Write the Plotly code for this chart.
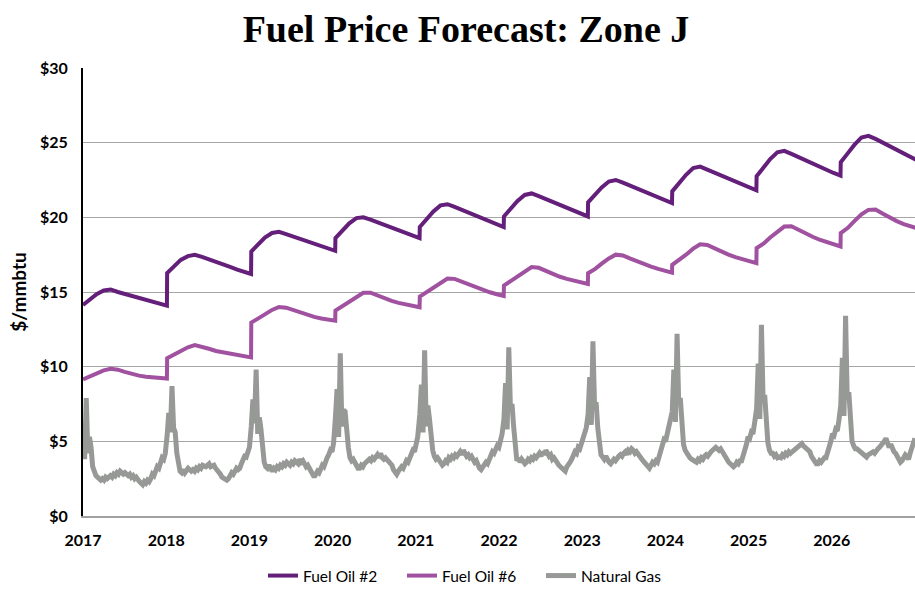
import pandas as pd
import plotly.graph_objects as go

years = list(range(2017, 2027))
year_labels = [str(y) for y in years]
y_ticks = [0, 5, 10, 15, 20, 25, 30]
y_tick_labels = ["$0", "$5", "$10", "$15", "$20", "$25", "$30"]

# Fuel oil: values on the 1st of each month Jan..Dec, then Dec 31 (before the yearly step)
fuel_oil_2 = [
    14.13, 14.50, 14.85, 15.10, 15.17, 15.00, 14.88, 14.75, 14.62, 14.48, 14.35, 14.22, 14.09,  # 2017
    16.26, 16.75, 17.15, 17.40, 17.49, 17.35, 17.20, 17.02, 16.85, 16.68, 16.50, 16.36, 16.21,  # 2018
    17.71, 18.20, 18.65, 18.95, 19.03, 18.88, 18.72, 18.55, 18.38, 18.22, 18.05, 17.90, 17.76,  # 2019
    18.61, 19.10, 19.60, 19.95, 20.00, 19.85, 19.67, 19.48, 19.30, 19.12, 18.95, 18.78, 18.61,  # 2020
    19.35, 19.90, 20.40, 20.80, 20.88, 20.70, 20.50, 20.30, 20.10, 19.90, 19.70, 19.52, 19.35,  # 2021
    20.06, 20.60, 21.10, 21.50, 21.60, 21.42, 21.22, 21.02, 20.82, 20.62, 20.43, 20.25, 20.06,  # 2022
    21.00, 21.55, 22.00, 22.40, 22.50, 22.32, 22.12, 21.92, 21.72, 21.52, 21.32, 21.14, 20.96,  # 2023
    21.74, 22.35, 22.85, 23.30, 23.40, 23.20, 23.00, 22.80, 22.58, 22.38, 22.18, 22.00, 21.81,  # 2024
    22.75, 23.35, 23.90, 24.35, 24.45, 24.25, 24.03, 23.80, 23.58, 23.37, 23.17, 22.97, 22.79,  # 2025
    23.69, 24.30, 24.85, 25.35, 25.46, 25.25, 25.00, 24.75, 24.50, 24.25, 24.00, 23.80, 23.60,  # 2026
]
fuel_oil_6 = [
    9.15, 9.35, 9.55, 9.75, 9.86, 9.80, 9.65, 9.50, 9.40, 9.33, 9.28, 9.24, 9.21,  # 2017
    10.56, 10.80, 11.05, 11.30, 11.44, 11.35, 11.20, 11.05, 10.95, 10.85, 10.78, 10.70, 10.62,  # 2018
    12.95, 13.20, 13.50, 13.80, 14.00, 13.95, 13.80, 13.60, 13.45, 13.33, 13.23, 13.15, 13.08,  # 2019
    13.75, 14.05, 14.35, 14.70, 14.95, 14.95, 14.75, 14.55, 14.40, 14.27, 14.15, 14.06, 13.98,  # 2020
    14.69, 15.00, 15.30, 15.65, 15.90, 15.88, 15.70, 15.50, 15.30, 15.12, 14.98, 14.85, 14.74,  # 2021
    15.43, 15.75, 16.05, 16.40, 16.67, 16.62, 16.42, 16.20, 16.02, 15.88, 15.75, 15.64, 15.54,  # 2022
    16.26, 16.55, 16.90, 17.25, 17.50, 17.45, 17.25, 17.05, 16.85, 16.70, 16.55, 16.42, 16.30,  # 2023
    16.82, 17.15, 17.50, 17.90, 18.20, 18.15, 17.92, 17.70, 17.50, 17.33, 17.18, 17.05, 16.93,  # 2024
    17.94, 18.25, 18.65, 19.05, 19.38, 19.40, 19.15, 18.90, 18.70, 18.50, 18.33, 18.18, 18.05,  # 2025
    18.95, 19.30, 19.75, 20.20, 20.50, 20.52, 20.25, 19.98, 19.75, 19.55, 19.40, 19.25, 19.10,  # 2026
]

# Natural gas: weekly values starting Jan 1 of each year
gas_2017 = [6.3, 3.8, 7.9, 4.2, 5.3, 4.6, 3.3, 2.9, 2.7, 2.6, 2.5, 2.4, 2.5, 2.4, 2.6, 2.5, 2.6, 2.7, 2.6, 2.8,
            2.7, 2.9, 2.8, 3.0, 2.9, 2.8, 2.9, 2.8, 2.7, 2.8, 2.6, 2.7, 2.5, 2.6, 2.4, 2.3, 2.2, 2.1, 2.3, 2.2,
            2.4, 2.3, 2.5, 2.8, 2.7, 3.0, 3.3, 3.2, 3.6, 3.9, 3.8, 4.2]
gas_2018 = [5.4, 6.9, 5.6, 8.7, 5.9, 5.6, 4.2, 3.3, 3.0, 2.9, 3.1, 2.9, 3.0, 3.2, 3.1, 3.0, 3.1, 3.0, 3.2, 3.1,
            3.3, 3.2, 3.4, 3.3, 3.3, 3.4, 3.5, 3.3, 3.4, 3.4, 3.2, 3.1, 2.9, 2.8, 2.6, 2.5, 2.4, 2.4, 2.5, 2.7,
            2.9, 2.8, 3.0, 3.2, 3.1, 3.2, 3.5, 3.8, 4.0, 3.95, 4.3, 4.6]
gas_2019 = [6.0, 7.8, 6.2, 9.8, 5.5, 6.6, 5.8, 4.6, 3.6, 3.3, 3.2, 3.4, 3.1, 3.0, 3.2, 3.1, 3.3, 3.2, 3.4, 3.3,
            3.5, 3.4, 3.6, 3.5, 3.4, 3.6, 3.5, 3.7, 3.6, 3.5, 3.8, 3.6, 3.7, 3.5, 3.3, 3.4, 3.2, 2.9, 2.7, 2.6,
            2.8, 3.0, 2.9, 3.1, 3.4, 3.3, 3.7, 3.9, 4.1, 4.4, 4.3, 4.9]
gas_2020 = [6.6, 8.5, 5.3, 10.9, 6.0, 7.1, 7.0, 5.6, 4.6, 3.9, 3.7, 3.8, 3.5, 3.4, 3.2, 3.2, 3.4, 3.3, 3.5, 3.6,
            3.6, 3.8, 3.7, 3.9, 3.8, 4.0, 4.1, 3.9, 4.2, 3.9, 3.8, 3.9, 3.8, 3.7, 3.5, 3.4, 3.1, 2.9, 2.8, 3.0,
            3.2, 3.3, 3.2, 3.5, 3.7, 3.6, 3.9, 4.2, 4.4, 4.3, 4.7, 5.3]
gas_2021 = [6.8, 8.8, 5.6, 11.1, 6.0, 7.4, 6.5, 5.0, 4.4, 4.0, 3.8, 3.9, 3.7, 3.6, 3.4, 3.5, 3.7, 3.6, 3.9, 3.8,
            4.0, 3.9, 4.1, 4.0, 4.2, 4.3, 4.1, 4.4, 4.2, 4.0, 4.1, 3.9, 4.0, 3.8, 3.6, 3.7, 3.4, 3.2, 3.1, 3.3,
            3.4, 3.6, 3.5, 3.8, 3.9, 4.3, 4.2, 4.5, 4.7, 4.6, 5.0, 5.5]
gas_2022 = [6.5, 8.9, 5.8, 11.3, 7.3, 7.5, 6.0, 4.6, 3.7, 3.9, 3.6, 3.8, 3.7, 3.5, 3.6, 3.8, 3.7, 3.9, 3.8, 4.0,
            3.9, 4.1, 4.2, 4.0, 4.3, 4.1, 4.4, 4.2, 4.0, 4.1, 3.8, 3.9, 3.7, 3.5, 3.4, 3.3, 3.2, 3.1, 3.0, 3.3,
            3.4, 3.6, 3.8, 4.1, 4.3, 4.2, 4.6, 4.5, 4.9, 5.1, 5.4, 5.9]
gas_2023 = [6.8, 9.3, 6.1, 11.7, 7.4, 7.6, 5.9, 4.6, 4.1, 3.95, 3.8, 4.0, 3.7, 3.6, 3.5, 3.6, 3.8, 3.7, 3.9, 4.0,
            4.1, 4.0, 4.2, 4.3, 4.1, 4.4, 4.3, 4.5, 4.4, 4.2, 4.3, 4.1, 4.0, 3.85, 3.7, 3.6, 3.4, 3.3, 3.2, 3.4,
            3.6, 3.5, 3.7, 3.6, 4.0, 4.3, 4.7, 5.1, 5.0, 5.5, 5.9, 6.2]
gas_2024 = [7.0, 9.8, 6.3, 12.2, 7.6, 7.9, 6.1, 4.8, 4.4, 4.2, 4.0, 3.9, 3.8, 3.7, 3.6, 3.6, 3.8, 3.7, 3.9, 3.8,
            4.0, 4.1, 4.0, 4.2, 4.3, 4.4, 4.5, 4.6, 4.5, 4.4, 4.5, 4.3, 4.1, 4.0, 3.8, 3.6, 3.5, 3.4, 3.3, 3.4,
            3.6, 3.5, 3.7, 3.7, 4.0, 4.4, 4.8, 5.3, 5.2, 5.6, 5.5, 6.2]
gas_2025 = [7.2, 10.2, 6.5, 12.8, 7.8, 8.1, 6.3, 4.9, 4.4, 4.2, 4.2, 4.0, 4.1, 3.9, 3.95, 3.9, 4.1, 4.0, 4.2, 4.1,
            4.3, 4.2, 4.3, 4.4, 4.5, 4.6, 4.7, 4.8, 4.85, 4.7, 4.6, 4.5, 4.4, 4.3, 4.0, 3.8, 3.6, 3.5, 3.5, 3.7,
            3.6, 3.8, 3.9, 3.9, 4.2, 4.6, 5.0, 5.5, 5.4, 5.8, 5.7, 6.4]
gas_2026 = [7.4, 10.6, 6.7, 13.4, 8.0, 8.3, 6.4, 5.0, 4.7, 4.5, 4.5, 4.4, 4.3, 4.2, 4.1, 4.0, 3.95, 4.1, 4.2, 4.3,
            4.3, 4.2, 4.4, 4.5, 4.6, 4.7, 4.8, 5.0, 5.2, 4.9, 4.6, 4.8, 4.4, 4.3, 4.2, 4.0, 3.8, 3.6, 3.7, 3.9,
            4.1, 4.0, 3.8, 4.2, 4.6, 5.0, 5.2]
gas_by_year = [gas_2017, gas_2018, gas_2019, gas_2020, gas_2021, gas_2022, gas_2023, gas_2024, gas_2025, gas_2026]

# ---- build x (dates) ----
oil_dates = []
for y in years:
    oil_dates += [pd.Timestamp(y, m, 1) for m in range(1, 13)] + [pd.Timestamp(y, 12, 31)]

gas_dates, gas_values = [], []
for y, vals in zip(years, gas_by_year):
    gas_dates += list(pd.date_range(f"{y}-01-01", periods=len(vals), freq="7D"))
    gas_values += vals

C_FO2 = "#641f7a"
C_FO6 = "#a0519f"
C_NG = "#979997"

fig = go.Figure()
fig.add_trace(go.Scatter(x=oil_dates, y=fuel_oil_2, mode="lines", name="Fuel Oil #2",
                         line=dict(color=C_FO2, width=4)))
fig.add_trace(go.Scatter(x=oil_dates, y=fuel_oil_6, mode="lines", name="Fuel Oil #6",
                         line=dict(color=C_FO6, width=4)))
fig.add_trace(go.Scatter(x=gas_dates, y=gas_values, mode="lines", name="Natural Gas",
                         line=dict(color=C_NG, width=5)))

W, H = 915, 593
x0 = pd.Timestamp("2017-01-01")
px_per_year = 84.2
plot_w = 832
x_end = x0 + pd.Timedelta(days=365.25 * plot_w / px_per_year)
label_step_days = 365.25 * 83.2 / px_per_year
tickvals = [x0 + pd.Timedelta(days=k * label_step_days) for k in range(len(years))]

SANS = "Lato, Liberation Sans, sans-serif"

fig.update_layout(
    width=W, height=H,
    margin=dict(l=83, r=0, t=68, b=77, autoexpand=False),
    paper_bgcolor="white", plot_bgcolor="white",
    font=dict(family=SANS, color="black"),
    title=dict(text="<b>Fuel Price Forecast: Zone J</b>",
               font=dict(family="Liberation Serif, DejaVu Serif, serif", size=38, color="black"),
               x=466 / W, xref="container", xanchor="center",
               y=1 - 29 / H, yref="container", yanchor="middle"),
    showlegend=True,
    legend=dict(orientation="h", x=(263 - 83) / 832, xanchor="left",
                y=-60 / 448, yanchor="middle",
                font=dict(family=SANS, size=15.5, color="black"),
                entrywidth=94, entrywidthmode="pixels",
                itemwidth=30, tracegroupgap=0),
)
fig.update_xaxes(
    type="date", range=[x0, x_end],
    tickvals=tickvals, ticktext=year_labels,
    tickfont=dict(family=SANS, size=16, color="black", weight="bold"),
    showgrid=False, zeroline=False,
    showline=True, linecolor="#a0a0a0", linewidth=2,
    ticks="", ticklabelstandoff=9,
)
fig.update_yaxes(
    range=[0, 30], tickvals=y_ticks, ticktext=y_tick_labels,
    tickfont=dict(family=SANS, size=16, color="black", weight="bold"),
    showgrid=True, gridcolor="#a6a6a6", gridwidth=1,
    zeroline=False, showline=True, linecolor="black", linewidth=2,
    ticks="", ticklabelstandoff=10,
    title=dict(text="<b>$/mmbtu</b>", font=dict(family=SANS, size=19, color="black"),
               standoff=8),
)

fig.write_html(
    "out.html",
    config={"displayModeBar": False},
    post_script="document.body.style.margin='0';document.body.style.overflow='hidden';",
)
